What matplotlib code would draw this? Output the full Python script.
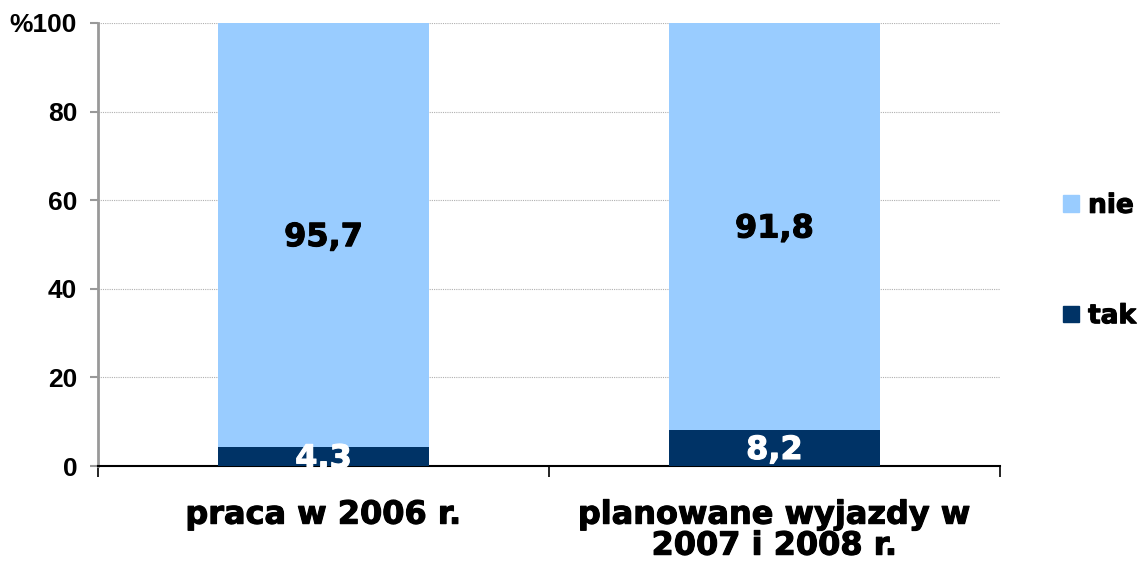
import matplotlib
matplotlib.use("Agg")
import matplotlib.pyplot as plt
from matplotlib.patches import Patch
import matplotlib.patheffects as pe

categories = ["praca w 2006 r.", "planowane wyjazdy w\n2007 i 2008 r."]
tak = [4.3, 8.2]
nie = [95.7, 91.8]
yticks = [0, 20, 40, 60, 80, 100]
ytick_labels = ["0", "20", "40", "60", "80", "%100"]

c_tak = "#003366"
c_nie = "#99CCFF"

fig = plt.figure(figsize=(11.41, 5.63), dpi=100)
ax = fig.add_axes([98 / 1141, 1 - 466 / 563, 902 / 1141, 443 / 563])

x = [0.5, 1.5]
w = 0.47
ax.bar(x, tak, width=w, color=c_tak, zorder=3)
ax.bar(x, nie, width=w, bottom=tak, color=c_nie, zorder=3)

lab_font = "DejaVu Sans"


def heavy(color):
    return [pe.withStroke(linewidth=0.8, foreground=color)]


for xi, t, n in zip(x, tak, nie):
    ax.text(xi, t / 2 - 0.6, f"{t:.1f}".replace(".", ","), ha="center", va="center",
            color="white", fontsize=23, fontweight="bold", family=lab_font, zorder=4,
            path_effects=heavy("white"))
    ax.text(xi, t + n / 2 - 0.6, f"{n:.1f}".replace(".", ","), ha="center", va="center",
            color="black", fontsize=23, fontweight="bold", family=lab_font, zorder=4,
            path_effects=heavy("black"))

ax.set_xlim(0, 2)
ax.set_ylim(0, 100)
ax.set_yticks(yticks)
ax.set_yticklabels(ytick_labels, family="Liberation Sans", fontweight="bold", fontsize=19)
ax.set_xticks([0, 1, 2])
ax.set_xticklabels([])
ax.tick_params(axis="x", direction="out", length=8, width=1.2, color="black")
ax.tick_params(axis="y", direction="out", length=6, width=1.5, color="#999999", pad=9)
for xi, c in zip(x, categories):
    ax.text(xi, -7.6, c, ha="center", va="top", fontsize=23, fontweight="bold",
            family=lab_font, linespacing=1.0, transform=ax.transData,
            path_effects=heavy("black"))

ax.grid(axis="y", color="#b0b0b0", linestyle=(0, (1, 1)), linewidth=0.8, zorder=0)
for s in ["top", "right"]:
    ax.spines[s].set_visible(False)
ax.spines["left"].set_color("#999999")
ax.spines["left"].set_linewidth(2)
ax.spines["bottom"].set_color("black")
ax.spines["bottom"].set_linewidth(1.5)

handles = [Patch(color=c_nie, label="nie"), Patch(color=c_tak, label="tak")]
leg = fig.legend(handles=handles, loc="center left", bbox_to_anchor=(1063 / 1141, 1 - 261 / 563),
                 frameon=False, prop={"family": lab_font, "weight": "bold", "size": 19},
                 handlelength=0.6, handleheight=0.6, handletextpad=0.35, labelspacing=3.2,
                 borderaxespad=0, borderpad=0)
for t in leg.get_texts():
    t.set_path_effects(heavy("black"))

fig.savefig("out.png", dpi=100)
